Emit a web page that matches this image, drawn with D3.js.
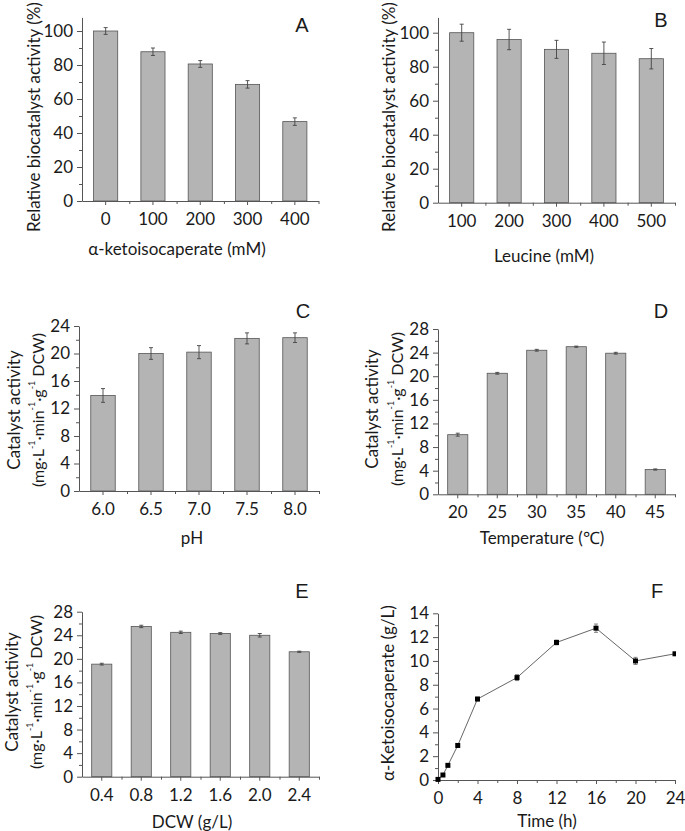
<!DOCTYPE html>
<html>
<head>
<meta charset="utf-8">
<script src="https://cdn.jsdelivr.net/npm/d3@7"></script>
<style>
  body { margin: 0; background: #fff; }
  svg { display: block; }
  text { fill: #1a1a1a; }
</style>
</head>
<body>
<script>
// ---------- DATA ----------
const catsA = ["0", "100", "200", "300", "400"];
const valsA = [100, 87.8, 80.6, 68.6, 46.7];
const errA  = [2.0, 2.2, 2.0, 2.2, 2.2];

const catsB = ["100", "200", "300", "400", "500"];
const valsB = [100, 96.0, 90.2, 87.9, 84.7];
const errB  = [5.0, 6.0, 5.3, 6.6, 6.0];

const catsC = ["6.0", "6.5", "7.0", "7.5", "8.0"];
const valsC = [13.9, 20.0, 20.2, 22.2, 22.3];
const errC  = [1.0, 0.85, 0.95, 0.8, 0.7];

const catsD = ["20", "25", "30", "35", "40", "45"];
const valsD = [10.1, 20.5, 24.4, 25.0, 23.9, 4.2];
const errD  = [0.25, 0.15, 0.15, 0.1, 0.15, 0.1];

const catsE = ["0.4", "0.8", "1.2", "1.6", "2.0", "2.4"];
const valsE = [19.1, 25.5, 24.5, 24.3, 24.0, 21.2];
const errE  = [0.15, 0.2, 0.2, 0.15, 0.3, 0.1];

const timeF = [0, 0.5, 1, 2, 4, 8, 12, 16, 20, 24];
const valsF = [0.05, 0.42, 1.23, 2.9, 6.8, 8.6, 11.55, 12.75, 10.0, 10.6];
const errF  = [0.05, 0.1, 0.1, 0.15, 0.15, 0.25, 0.2, 0.35, 0.3, 0.1];

const ticksPct = [0, 20, 40, 60, 80, 100];
const minorPct = [10, 30, 50, 70, 90];
const ticksC = [0, 4, 8, 12, 16, 20, 24];
const ticksDE = [0, 4, 8, 12, 16, 20, 24, 28];
const ticksFy = [0, 2, 4, 6, 8, 10, 12, 14];
const ticksFx = [0, 4, 8, 12, 16, 20, 24];

// ---------- STYLE ----------
const FONT = "Lato, 'Open Sans', sans-serif";
const FS = 17;      // axis titles
const FT = 17;      // tick labels
const AXIS_COLOR = "#555";
const BAR_FILL = "#b4b4b4";
const BAR_STROKE = "#555";

const svg = d3.select("body").append("svg")
  .attr("width", 685).attr("height", 831)
  .style("font-family", FONT);

function styleAxis(g) {
  g.select(".domain").attr("stroke", AXIS_COLOR).attr("stroke-width", 1);
  g.selectAll(".tick line").attr("stroke", AXIS_COLOR).attr("stroke-width", 1);
  g.selectAll(".tick text").attr("font-size", FT).attr("font-family", FONT).attr("fill", "#1a1a1a");
}

function yAxisDraw(x0, y, major, minor) {
  const g = svg.append("g").attr("transform", `translate(${x0},0)`)
    .call(d3.axisLeft(y).tickValues(major).tickSize(5).tickSizeOuter(0).tickPadding(4));
  styleAxis(g);
  const gm = svg.append("g").attr("transform", `translate(${x0},0)`)
    .call(d3.axisLeft(y).tickValues(minor).tickSize(3).tickFormat(""));
  gm.select(".domain").remove();
  gm.selectAll(".tick line").attr("stroke", AXIS_COLOR);
}

function yLabel(cx, cy, txt, fs) {
  svg.append("text")
    .attr("transform", `translate(${cx},${cy}) rotate(-90)`)
    .attr("text-anchor", "middle").attr("dominant-baseline", "central")
    .attr("font-size", fs || FS).text(txt);
}

function catalystLabel(cx1, cx2, cy) {
  yLabel(cx1, cy, "Catalyst activity");
  const t = svg.append("text")
    .attr("transform", `translate(${cx2},${cy}) rotate(-90)`)
    .attr("text-anchor", "middle").attr("dominant-baseline", "central")
    .attr("font-size", 16);
  const parts = [["(mg·L", false], ["-1", true], ["·min", false], ["-1", true], ["·g", false], ["-1", true], [" DCW)", false]];
  let prevSup = false;
  parts.forEach(([s, sup]) => {
    const ts = t.append("tspan").text(s);
    if (sup) { ts.attr("font-size", 9); if (!prevSup) ts.attr("dy", -6); }
    else if (prevSup) { ts.attr("dy", 6); }
    prevSup = sup;
  });
}

function panelLetter(x, y, letter) {
  svg.append("text").attr("x", x).attr("y", y)
    .attr("text-anchor", "middle")
    .attr("font-family", "'Liberation Sans', Arial, sans-serif")
    .attr("font-size", 20).text(letter);
}

function xTitle(cx, cy, txt) {
  svg.append("text").attr("x", cx).attr("y", cy)
    .attr("text-anchor", "middle").attr("dominant-baseline", "central")
    .attr("font-size", FS).text(txt);
}

function barPanel(cfg) {
  const { cats, vals, errs, x0, x1, base, ppu, top, major, minor } = cfg;
  const n = cats.length;
  const x = d3.scaleBand().domain(cats).range([x0, x1]).paddingInner(0.49).paddingOuter(0.245);
  const y = d3.scaleLinear().domain([0, top]).range([base, base - ppu * top]);

  const g = svg.append("g");
  g.selectAll("rect").data(cats).join("rect")
    .attr("x", c => x(c)).attr("width", x.bandwidth())
    .attr("y", (c, i) => y(vals[i])).attr("height", (c, i) => base - y(vals[i]))
    .attr("fill", BAR_FILL).attr("stroke", BAR_STROKE).attr("stroke-width", 0.8);

  const eg = svg.append("g").attr("stroke", "#444").attr("stroke-width", 0.9);
  cats.forEach((c, i) => {
    const cx = x(c) + x.bandwidth() / 2;
    const y1 = y(vals[i] + errs[i]), y2 = y(vals[i] - errs[i]);
    eg.append("line").attr("x1", cx).attr("x2", cx).attr("y1", y1).attr("y2", y2);
    eg.append("line").attr("x1", cx - 2).attr("x2", cx + 2).attr("y1", y1).attr("y2", y1);
    eg.append("line").attr("x1", cx - 2).attr("x2", cx + 2).attr("y1", y2).attr("y2", y2);
  });

  yAxisDraw(x0, y, major, minor);

  const gx = svg.append("g").attr("transform", `translate(0,${base})`)
    .call(d3.axisBottom(x).tickSize(4).tickSizeOuter(0).tickPadding(8));
  styleAxis(gx);
  const xl = d3.scaleLinear().domain([0, n]).range([x0, x1]);
  const gxm = svg.append("g").attr("transform", `translate(0,${base})`)
    .call(d3.axisBottom(xl).tickValues(d3.range(1, n + 1)).tickSize(3).tickFormat(""));
  gxm.select(".domain").remove();
  gxm.selectAll(".tick line").attr("stroke", AXIS_COLOR);
}

// ---------- PANEL A ----------
barPanel({ cats: catsA, vals: valsA, errs: errA, x0: 82, x1: 318.5, base: 201, ppu: 1.7, top: 108,
  major: ticksPct, minor: minorPct });
yLabel(33, 117, "Relative biocatalyst activity (%)");
xTitle(177, 248, "α-ketoisocaperate (mM)");
panelLetter(302, 32, "A");

// ---------- PANEL B ----------
barPanel({ cats: catsB, vals: valsB, errs: errB, x0: 438, x1: 675, base: 202.7, ppu: 1.7, top: 109,
  major: ticksPct, minor: minorPct });
yLabel(388, 117, "Relative biocatalyst activity (%)");
xTitle(544, 255, "Leucine (mM)");
panelLetter(661, 27, "B");

// ---------- PANEL C ----------
barPanel({ cats: catsC, vals: valsC, errs: errC, x0: 79, x1: 319, base: 491, ppu: 165 / 24, top: 24,
  major: ticksC, minor: [2, 6, 10, 14, 18, 22] });
catalystLabel(13, 37, 410);
xTitle(192, 537, "pH");
panelLetter(303, 318, "C");

// ---------- PANEL D ----------
barPanel({ cats: catsD, vals: valsD, errs: errD, x0: 438, x1: 675, base: 494.3, ppu: 165.3 / 28, top: 28,
  major: ticksDE, minor: [2, 6, 10, 14, 18, 22, 26] });
catalystLabel(371, 396, 409);
xTitle(542, 537, "Temperature (℃)");
panelLetter(661, 318, "D");

// ---------- PANEL E ----------
barPanel({ cats: catsE, vals: valsE, errs: errE, x0: 82, x1: 319, base: 776.7, ppu: 165 / 28, top: 28,
  major: ticksDE, minor: [2, 6, 10, 14, 18, 22, 26] });
catalystLabel(11, 35, 692);
xTitle(192, 821, "DCW (g/L)");
panelLetter(302, 598, "E");

// ---------- PANEL F ----------
(function () {
  const x0 = 438, x1 = 675, base = 780, ppu = 166.7 / 14;
  const x = d3.scaleLinear().domain([0, 24]).range([x0, x1]);
  const y = d3.scaleLinear().domain([0, 14]).range([base, base - ppu * 14]);

  svg.append("defs").append("clipPath").attr("id", "clipF")
    .append("rect").attr("x", x0 - 10).attr("y", y(14) - 10).attr("width", x1 - x0 + 11).attr("height", base - y(14) + 20);

  yAxisDraw(x0, y, ticksFy, d3.range(1, 14, 2));
  const gx = svg.append("g").attr("transform", `translate(0,${base})`)
    .call(d3.axisBottom(x).tickValues(ticksFx).tickSize(4).tickSizeOuter(0).tickPadding(8));
  styleAxis(gx);
  const gxm = svg.append("g").attr("transform", `translate(0,${base})`)
    .call(d3.axisBottom(x).tickValues([2, 6, 10, 14, 18, 22]).tickSize(3).tickFormat(""));
  gxm.select(".domain").remove();
  gxm.selectAll(".tick line").attr("stroke", AXIS_COLOR);

  const pg = svg.append("g").attr("clip-path", "url(#clipF)");
  const line = d3.line().x((d, i) => x(timeF[i])).y(d => y(d));
  pg.append("path").datum(valsF).attr("d", line)
    .attr("fill", "none").attr("stroke", "#666").attr("stroke-width", 1);

  const eg = pg.append("g").attr("stroke", "#777").attr("stroke-width", 0.9);
  timeF.forEach((t, i) => {
    const cx = x(t);
    const y1 = y(valsF[i] + errF[i]), y2 = y(valsF[i] - errF[i]);
    eg.append("line").attr("x1", cx).attr("x2", cx).attr("y1", y1).attr("y2", y2);
    eg.append("line").attr("x1", cx - 2).attr("x2", cx + 2).attr("y1", y1).attr("y2", y1);
    eg.append("line").attr("x1", cx - 2).attr("x2", cx + 2).attr("y1", y2).attr("y2", y2);
  });
  pg.selectAll("rect.pt").data(valsF).join("rect").attr("class", "pt")
    .attr("x", (d, i) => x(timeF[i]) - 2.5).attr("y", d => y(d) - 2.5)
    .attr("width", 5).attr("height", 5).attr("fill", "#000");

  yLabel(387, 693, "α-Ketoisocaperate (g/L)");
  xTitle(547, 820, "Time (h)");
  panelLetter(657, 598, "F");
})();
</script>
</body>
</html>
